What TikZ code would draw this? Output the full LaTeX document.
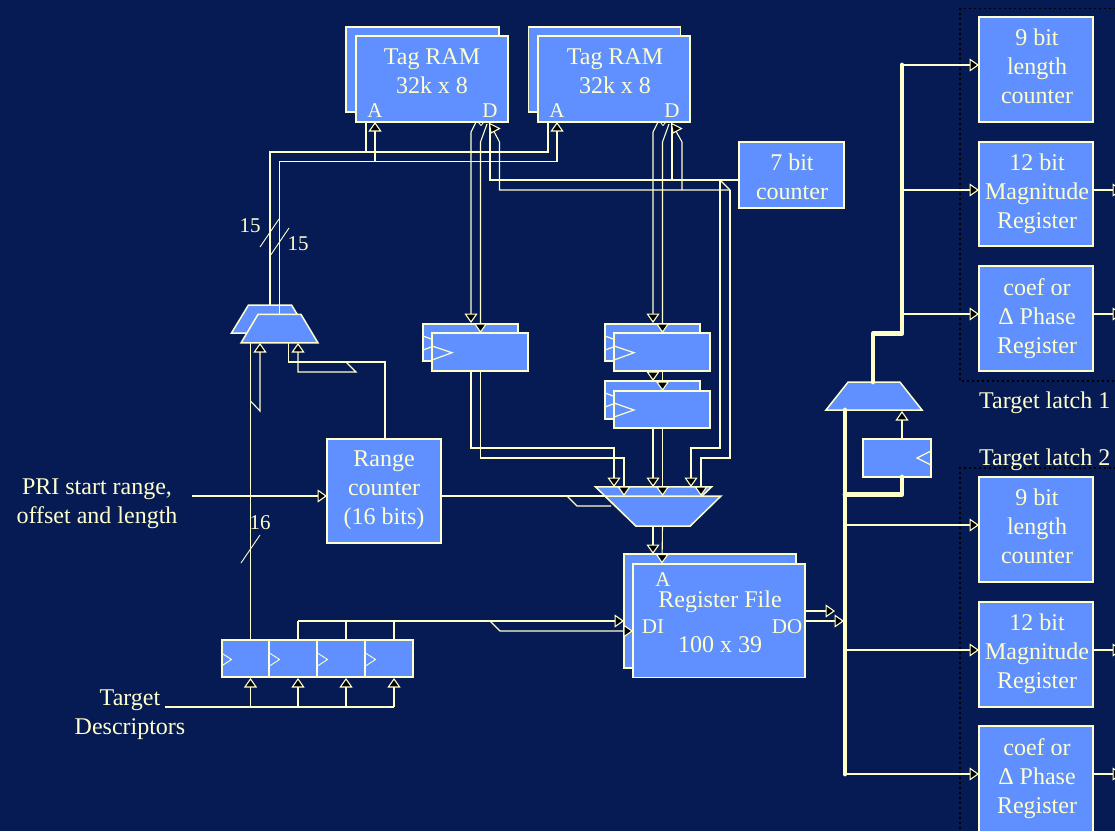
\documentclass[tikz,border=0pt]{standalone}
\usepackage{fontspec}
\setmainfont{Liberation Serif}
\usetikzlibrary{arrows.meta,shapes.geometric}
\definecolor{bgblue}{RGB}{6,27,84}
\definecolor{boxblue}{RGB}{96,144,255}
\definecolor{cream}{RGB}{255,255,204}
\tikzset{
  base/.style={draw=cream,fill=boxblue,line width=1.5pt,inner sep=0pt,outer sep=0pt,text=cream,align=center,font=\fontsize{24}{29}\selectfont},
  bx/.style 2 args={base,rectangle,minimum width=#1pt,minimum height=#2pt},
  mux/.style n args={3}{base,trapezium,inner sep=2pt,trapezium stretches=true,trapezium left angle=#3,trapezium right angle=#3,minimum width=#1pt,minimum height=#2pt},
  txt/.style={text=cream,inner sep=0pt,align=center,font=\fontsize{24}{29}\selectfont},
  small/.style={text=cream,inner sep=0pt,font=\fontsize{21}{22}\selectfont},
  wire/.style={draw=cream,line width=1.1pt},
  hair/.style={draw=cream,line width=.9pt},
  bus/.style={draw=cream,line width=4.8pt,line cap=round,line join=round},
  tip/.style={-{Triangle[length=9.5pt,width=13pt,fill=black]}},
  clk/.style={draw=cream,line width=1.2pt},
  tagtip/.style={draw=cream,fill=black,line width=1.1pt},
  latch/.style={draw=black,line width=1.8pt,dash pattern=on 2pt off 3pt}
}
\begin{document}
\begin{tikzpicture}[x=1pt,y=-1pt]
\useasboundingbox (0,0) rectangle (1115,831);
\clip (0,0) rectangle (1115,831);
\fill[bgblue] (0,0) rectangle (1115,831);

% dotted latch frames
\draw[latch] (1116,8.5) -- (960,8.5) -- (960,381) -- (1116,381);
\draw[latch] (1116,468) -- (960,468) -- (960,835);

% pins
\coordinate (a1o) at (366,112); \coordinate (a1i) at (375,122);
\coordinate (a2o) at (548,112); \coordinate (a2i) at (557,122);
\coordinate (mL1) at (270,305); \coordinate (mL2) at (279.5,314.5);

% back shapes
\node[bx={153}{85}] (ram1b) at (422.5,69.5) {};
\node[bx={152}{85}] (ram2b) at (604.5,69.5) {};
\draw[wire,tip] (mL1) |- (548,152) -- (a2o);
\draw[wire,tip] (366,152) -- (a1o);
\node[bx={152}{86}] (ram1) at (432,79) {};
\node[bx={152}{86}] (ram2) at (614,79) {};
\node[txt] (ram1t) at (432,71.5) {Tag RAM\\32k x 8};
\node[txt] (ram2t) at (615,71.5) {Tag RAM\\32k x 8};
\node[small] (ram1a) at (375,110.5) {A};
\node[small] (ram1d) at (490,110.5) {D};
\node[small] (ram2a) at (557,110.5) {A};
\node[small] (ram2d) at (672,110.5) {D};

% seven bit counter
\node[bx={105}{66}] (cnt7) at (791.5,175) {};
\node[txt] (cnt7t) at (792,176.5) {7 bit\\counter};

% flip flops (back + front)
\node[bx={95}{37}] (ff1b) at (470.5,342.5) {};
\draw[clk] (423,336) -- (442,343) -- (423,350);
\node[bx={96}{38}] (ff1) at (480,352) {};
\draw[clk] (432,346) -- (452,352.7) -- (432,360);
\node[bx={95}{37}] (ff2b) at (652.5,342.5) {};
\draw[clk] (605,336) -- (624,343) -- (605,350);
\node[bx={96}{38}] (ff2) at (662,352) {};
\draw[clk] (614,346) -- (634,352.7) -- (614,360);
\node[bx={95}{38}] (ff3b) at (652.5,400) {};
\draw[clk] (605,393) -- (624,400) -- (605,407);
\node[bx={96}{37}] (ff3) at (662,409.5) {};
\draw[clk] (614,403) -- (634,410) -- (614,417);

% left mux and range counter
\node[mux={77}{28}{68.5}] (mL1b) at (270,319) {};
\node[mux={77}{28.5}{68.5}] (mL2f) at (279.5,328.7) {};
\node[bx={114}{104}] (range) at (384,491) {};
\node[txt] (ranget) at (384,490.5) {Range\\counter\\(16 bits)};

% centre mux
\draw[wire] (567,496) -- (577,506) -- (611,506);
\node[mux={116}{29.5}{60.5},shape border rotate=180] (mC1) at (653.5,501.7) {};
\node[mux={116}{30}{60.5},shape border rotate=180] (mC2) at (663,511) {};

% register file
\node[bx={172}{114}] (rfb) at (710,611) {};
\coordinate (rfa1) at (653,554); \coordinate (rfa2) at (662,563.5);
\node[bx={172}{113.5}] (rf) at (719,620.5) {};
\node[txt] (rft) at (720,601.5) {Register File};
\node[txt] (rfs) at (720,644.5) {100 x 39};
\node[small] (rfA) at (663,580) {A};
\node[small] (rfDI) at (653,627) {DI};
\node[small] (rfDO) at (787,627) {DO};

% input flops
\node[bx={47.5}{37}] (in1) at (245.5,658.5) {};
\node[bx={48}{37}] (in2) at (293,658.5) {};
\node[bx={48}{37}] (in3) at (341,658.5) {};
\node[bx={47.5}{37}] (in4) at (389,658.5) {};
\draw[clk,line width=.9pt] (221.5,653) -- (231.5,659.5) -- (221.5,666);
\draw[clk,line width=.9pt] (269.5,653) -- (279.5,659.5) -- (269.5,666);
\draw[clk,line width=.9pt] (317.5,653) -- (327.5,659.5) -- (317.5,666);
\draw[clk,line width=.9pt] (365.5,653) -- (375.5,659.5) -- (365.5,666);

% right blocks
\node[bx={114}{105}] (len1) at (1036,69.5) {};
\node[bx={114}{104}] (mag1) at (1036,194) {};
\node[bx={114}{105}] (pha1) at (1036,318.5) {};
\node[bx={114}{105}] (len2) at (1036,529.5) {};
\node[bx={114}{105}] (mag2) at (1036,654.5) {};
\node[bx={114}{106}] (pha2) at (1036,779) {};
\node[txt] (len1t) at (1037,66.5) {9 bit\\length\\counter};
\node[txt] (mag1t) at (1037,193.5) {12 bit\\Magnitude\\Register};
\node[txt] (pha1t) at (1037,318.5) {coef or\\Δ Phase\\Register};
\node[txt] (len2t) at (1037,526) {9 bit\\length\\counter};
\node[txt] (mag2t) at (1037,653.5) {12 bit\\Magnitude\\Register};
\node[txt] (pha2t) at (1037,778.5) {coef or\\Δ Phase\\Register};
\node[txt,anchor=west] (lat1) at (979,402.5) {Target latch 1};
\node[txt,anchor=west] (lat2) at (979,459.5) {Target latch 2};

% output mux and its select flop
\node[mux={96}{28}{66.8}] (mO) at (874,396) {};
\node[bx={68}{38}] (sel) at (897,458) {};
\draw[clk] (931,451) -- (917,458) -- (931,465);

% wires: address buses
\draw[wire,tip] (mL2) |- (375,161.5) -- (a1i);
\draw[wire,tip] (375,161.5) -| (a2i);

% wires: tag RAM data to first flops
\coordinate (f1a) at (471,323); \coordinate (f1b) at (480.5,333);
\coordinate (f2a) at (653,323); \coordinate (f2b) at (662.5,333);
\draw[wire,tip] (476,122) -- (471,132) -- (f1a);
\draw[wire,tip] (487,124) -- (480.5,142) -- (f1b);
\draw[wire,tip] (658,122) -- (653,132) -- (f2a);
\draw[wire,tip] (669,124) -- (662.5,142) -- (f2b);

% wires: seven bit counter to tag RAM data
\draw[wire] (cnt7.west |- 0,180) -- (490,180) -- (490,125);
\draw[wire] (730,190) -- (499.5,190) -- (499.5,142) -- (490,124);
\draw[wire] (672,180) -- (672,125);
\draw[wire] (682,190) -- (682,142) -- (672,124);
\draw[tagtip] (489.5,123.5) -- (499.5,128.5) -- (491,133) -- cycle;
\draw[tagtip] (671.5,123.5) -- (681.5,128.5) -- (673,133) -- cycle;
\draw[wire,line width=.8pt] (478,122) -- (481,125.5) -- (484,122);
\draw[wire,line width=.8pt] (660,122) -- (663,125.5) -- (666,122);

% wires: counter to centre mux
\coordinate (c3a) at (691,487); \coordinate (c3b) at (701,496);
\draw[wire] (720,180) -- (730,190);
\draw[wire,tip] (720,180) -- (720,448) -- (691,448) -- (c3a);
\draw[wire,tip] (730,190) -- (730,458) -- (701,458) -- (c3b);

% wires: flops
\coordinate (c1a) at (614,487); \coordinate (c1b) at (624,496);
\coordinate (c2a) at (653,487); \coordinate (c2b) at (662.5,496);
\draw[wire,tip] (471,371) -- (471,448) -- (614,448) -- (c1a);
\draw[wire,tip] (480.5,371) -- (480.5,458) -- (624,458) -- (c1b);
\draw[wire,tip] (653,371) -- (653,381);
\draw[wire,tip] (662.5,371) -- (662.5,391);
\draw[wire,tip] (653,428) -- (c2a);
\draw[wire,tip] (662.5,428) -- (c2b);

% wires: centre mux to register file
\draw[wire,tip] (653,526) -- (rfa1);
\draw[wire,tip] (662.5,526) -- (rfa2);

% wires: range counter
\draw[wire] (range.east |- 0,496) -- (605,496);
\coordinate (pri) at (192,496); \coordinate (rangeIn) at (327,496);
\draw[wire,tip] (pri) -- (rangeIn);
\coordinate (mLs1) at (288.5,343); \coordinate (mLs2) at (298,343);
\draw[wire] (385,439) -- (385,362) -- (288.5,362) -- (mLs1);
\draw[wire,tip] (346,362) -- (356,372) -- (298,372) -- (mLs2);

% wires: input flops to left mux
\coordinate (mLa) at (250.5,343); \coordinate (mLb) at (260,343);
\draw[wire] (250.5,640) -- (mLa);
\draw[wire,tip] (250.5,401) -- (260,411) -- (mLb);

% bus slashes
\draw[hair] (260,247) -- (279,219);
\draw[hair] (270,256) -- (289,228);
\draw[hair] (241,563) -- (260,535);
\node[small] (l15a) at (250,226) {15};
\node[small] (l15b) at (298,244) {15};
\node[small] (l16) at (260,523) {16};

% wires: input flops to register file
\coordinate (rfDIa) at (624,621); \coordinate (rfDIb) at (633,631);
\draw[wire] (298,640) -- (298,621);
\draw[wire] (346,640) -- (346,621);
\draw[wire] (394,640) -- (394,621);
\draw[wire,tip] (298,621) -- (rfDIa);
\draw[wire,tip] (490,621) -- (500,631) -- (rfDIb);

% descriptors
\coordinate (dsc) at (165,707);
\draw[wire] (dsc) -- (394,707);
\draw[wire,tip] (250.5,707) -- (250.5,678);
\draw[wire,tip] (298,707) -- (298,678);
\draw[wire,tip] (346,707) -- (346,678);
\draw[wire,tip] (394,707) -- (394,678);

% wires: register file outputs
\coordinate (doA) at (835,611); \coordinate (doB) at (844,621);
\draw[wire,tip] (805,611) -- (doA);
\draw[wire,tip] (805,621) -- (doB);

% buses
\draw[bus] (873,382) -- (873,333.5) -- (902,333.5) -- (902,65);
\draw[bus] (845,410) -- (845,774);
\draw[bus] (902,477) -- (902,494.5) -- (845,494.5);
\draw[wire,tip] (902,439) -- (902,411);

% branch arrows
\coordinate (i1) at (979,65); \coordinate (i2) at (979,190); \coordinate (i3) at (979,314);
\coordinate (i4) at (979,525); \coordinate (i5) at (979,650); \coordinate (i6) at (979,774);
\draw[wire,tip] (902,65) -- (i1);
\draw[wire,tip] (902,190) -- (i2);
\draw[wire,tip] (902,314) -- (i3);
\draw[wire,tip] (845,525) -- (i4);
\draw[wire,tip] (845,650) -- (i5);
\draw[wire,tip] (845,774) -- (i6);

% outgoing stubs
\coordinate (s1) at (1122,190); \coordinate (s2) at (1122,314);
\coordinate (s3) at (1122,650); \coordinate (s4) at (1122,774);
\draw[wire,tip] (mag1.east |- s1) -- (s1);
\draw[wire,tip] (pha1.east |- s2) -- (s2);
\draw[wire,tip] (mag2.east |- s3) -- (s3);
\draw[wire,tip] (pha2.east |- s4) -- (s4);

% free labels
\node[txt] (prit) at (97,503.5) {PRI start range,\\offset and length};
\node[txt] (tgt) at (130,714.5) {Target\\Descriptors};
\end{tikzpicture}
\end{document}
